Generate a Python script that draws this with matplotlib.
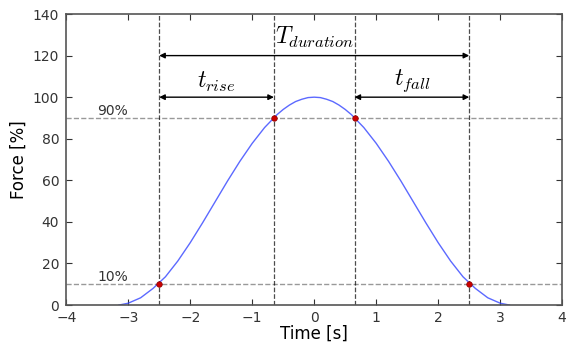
import matplotlib
matplotlib.use("Agg")
import matplotlib.pyplot as plt

plt.rcParams['mathtext.fontset'] = 'cm'
plt.rcParams['font.family'] = 'DejaVu Sans'

# force curve (time [s], force [%])
time = [-3.15, -3.0, -2.8, -2.6, -2.4, -2.2, -2.0, -1.8, -1.6, -1.4, -1.2, -1.0,
        -0.8, -0.6, -0.5, -0.4, -0.3, -0.2, -0.1, 0.0, 0.1, 0.2, 0.3, 0.4, 0.5,
        0.6, 0.8, 1.0, 1.2, 1.4, 1.6, 1.8, 2.0, 2.2, 2.4, 2.6, 2.8, 3.0, 3.15]
force = [0.0, 0.9, 3.5, 8.0, 13.6, 21.2, 30.0, 39.6, 49.6, 59.6, 69.1, 77.8,
         85.4, 91.6, 94.1, 96.2, 97.9, 99.0, 99.8, 100.0, 99.8, 99.0, 97.9, 96.2, 94.1,
         91.6, 85.4, 77.8, 69.1, 59.6, 49.6, 39.6, 30.0, 21.2, 13.6, 8.0, 3.5, 0.9, 0.0]

# threshold crossings
cross_t = [-2.5, -0.65, 0.65, 2.5]
cross_f = [10, 90, 90, 10]
levels = [10, 90]
level_labels = ['10%', '90%']

fig = plt.figure(figsize=(5.76, 3.42), dpi=100)
ax = fig.add_axes([0.115, 0.108, 0.861, 0.851])

for lv, lab in zip(levels, level_labels):
    ax.axhline(lv, color='gray', ls='--', lw=1.0, alpha=0.8)
    ax.text(-3.5, lv + 1.5, lab, fontsize=10, color='#333333')
for t in cross_t:
    ax.axvline(t, color='black', ls='--', lw=0.9, alpha=0.7)

ax.plot(time, force, color='#3344ff', lw=1.0, alpha=0.8)
ax.plot(cross_t, cross_f, 'o', color='#cc0000', ms=4, mec='#880000', mew=0.5)

arrow = dict(arrowstyle='<|-|>', color='black', lw=1.0, mutation_scale=8, shrinkA=0, shrinkB=0)
ax.annotate('', xy=(cross_t[0], 120), xytext=(cross_t[3], 120), arrowprops=arrow)
ax.annotate('', xy=(cross_t[0], 100), xytext=(cross_t[1], 100), arrowprops=arrow)
ax.annotate('', xy=(cross_t[2], 100), xytext=(cross_t[3], 100), arrowprops=arrow)
ax.text(0, 122.5, r'$T_{duration}$', fontsize=17, ha='center', va='bottom')
ax.text((cross_t[0] + cross_t[1]) / 2, 101.5, r'$t_{rise}$', fontsize=17, ha='center', va='bottom')
ax.text((cross_t[2] + cross_t[3]) / 2, 101.5, r'$t_{fall}$', fontsize=17, ha='center', va='bottom')

ax.set_xlim(-4, 4)
ax.set_ylim(0, 140)
ax.set_xticks(range(-4, 5))
ax.set_yticks(range(0, 141, 20))
ax.tick_params(direction='in', top=True, right=True, labelsize=10, colors='#333333', length=4)
ax.tick_params(axis='x', pad=4)
ax.tick_params(axis='y', pad=5)
for s in ax.spines.values():
    s.set_color('#555555')
    s.set_linewidth(1.2)
ax.set_xlabel('Time [s]', fontsize=12, labelpad=0)
ax.set_ylabel('Force [%]', fontsize=12, labelpad=4)

fig.savefig('out.png', dpi=100)
